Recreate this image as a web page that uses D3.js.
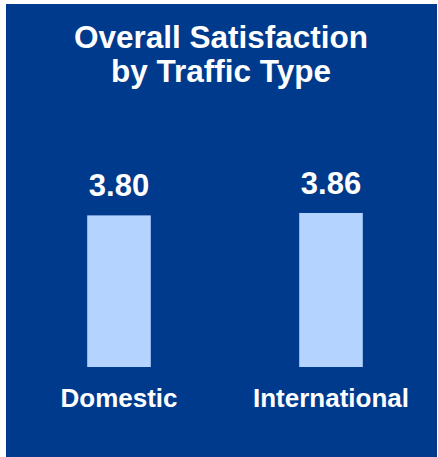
<!DOCTYPE html>
<html>
<head>
<meta charset="utf-8">
<script src="https://cdn.jsdelivr.net/npm/d3@7/dist/d3.min.js"></script>
<style>
  body { margin: 0; background: #fff; }
  text { font-family: "Liberation Sans", Arial, sans-serif; font-weight: bold; fill: #fff; }
</style>
</head>
<body>
<div id="chart"></div>
<script>
var categories = ["Domestic", "International"];
var values = [3.80, 3.86];
var titleLines = ["Overall Satisfaction", "by Traffic Type"];

var width = 438, height = 457;

var svg = d3.select("#chart")
  .append("svg")
  .attr("width", width)
  .attr("height", height);

// panel
svg.append("rect")
  .attr("x", 6)
  .attr("y", 4)
  .attr("width", width - 7)
  .attr("height", height - 4)
  .attr("fill", "#003a8c");

var x = d3.scaleBand().domain(categories).range([13, 437]).paddingInner(0.7).paddingOuter(0.35),
    y = d3.scaleLinear().domain([0, 4]).range([367, 207.4]);

svg.selectAll(".title")
  .data(titleLines)
  .enter()
  .append("text")
  .attr("class", "title")
  .attr("x", 221)
  .attr("y", function(d, i) { return 47.5 + i * 34.5; })
  .attr("text-anchor", "middle")
  .style("font-size", "31.5px")
  .text(function(d) { return d; });

svg.selectAll(".val")
  .data(values)
  .enter()
  .append("text")
  .attr("class", "val")
  .attr("x", function(d, i) { return x(categories[i]) + x.bandwidth() / 2; })
  .attr("y", function(d) { return y(d) - 19; })
  .attr("text-anchor", "middle")
  .style("font-size", "31px")
  .text(function(d) { return d.toFixed(2); });

svg.selectAll(".bar")
  .data(values)
  .enter()
  .append("rect")
  .attr("class", "bar")
  .attr("x", function(d, i) { return x(categories[i]); })
  .attr("y", function(d) { return y(d); })
  .attr("width", x.bandwidth())
  .attr("height", function(d) { return y(0) - y(d); })
  .attr("fill", "#b5d3ff");

svg.append("g")
  .attr("transform", "translate(0,367)")
  .call(d3.axisBottom(x).tickSize(0).tickPadding(21.5))
  .call(function(g) {
    g.select(".domain").remove();
    g.selectAll("text")
      .attr("fill", "#fff")
      .style("font-family", "'Liberation Sans', Arial, sans-serif")
      .style("font-weight", "bold")
      .style("font-size", "26px");
  });
</script>
</body>
</html>
